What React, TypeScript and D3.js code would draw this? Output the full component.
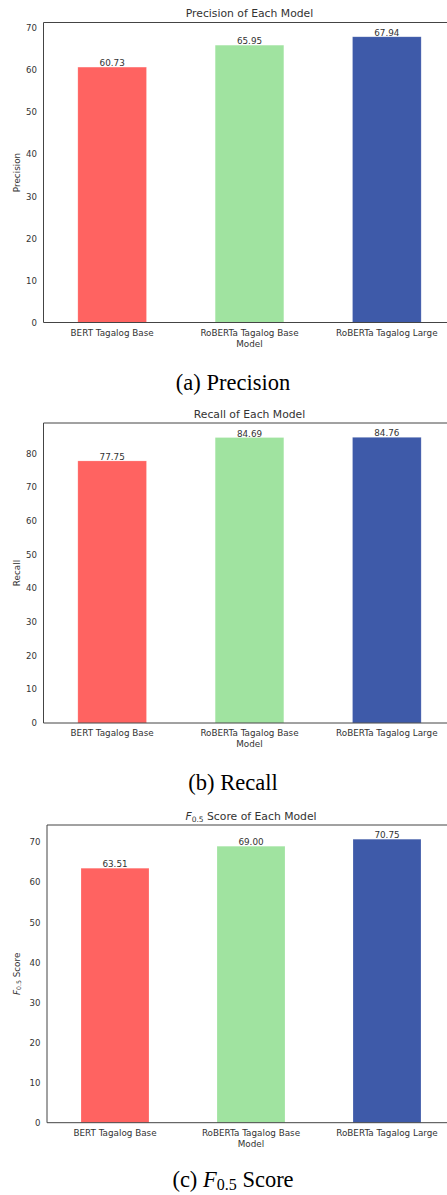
import React from "react";
import * as d3 from "d3";

const models = ["BERT Tagalog Base", "RoBERTa Tagalog Base", "RoBERTa Tagalog Large"];
const precision = [60.73, 65.95, 67.94];
const recall = [77.75, 84.69, 84.76];
const f05 = [63.51, 69.0, 70.75];
const colors = ["#ff6361", "#a0e3a0", "#3e5aa9"];
const precisionTicks = [0, 10, 20, 30, 40, 50, 60, 70];
const recallTicks = [0, 10, 20, 30, 40, 50, 60, 70, 80];
const f05Ticks = [0, 10, 20, 30, 40, 50, 60, 70];

const FONT = "DejaVu Sans, sans-serif";
const TXT = "#333";

type PanelProps = {
  values: number[];
  ticks: number[];
  left: number;
  right: number;
  top: number;
  bottom: number;
  title: React.ReactNode;
  ylabel: React.ReactNode;
  caption: React.ReactNode;
  captionY: number;
};

function Panel(p: PanelProps) {
  const x = d3.scaleLinear().domain([-0.5, models.length - 0.5]).range([p.left, p.right]);
  const ymax = (d3.max(p.values) as number) * 1.05;
  const y = d3.scaleLinear().domain([0, ymax]).range([p.bottom, p.top]);
  return (
    <g>
      <text x={(p.left + p.right) / 2} y={p.top - 5.5} textAnchor="middle" fontFamily={FONT} fontSize={10.8} fill={TXT}>
        {p.title}
      </text>
      {p.values.map((v, i) => (
        <g key={i}>
          <rect
            x={x(i - 0.25)}
            y={y(v)}
            width={x(i + 0.25) - x(i - 0.25)}
            height={y(0) - y(v)}
            fill={colors[i]}
            stroke="#ffffff"
            strokeOpacity={0.35}
            strokeWidth={0.6}
          />
          <text x={x(i)} y={y(v) - 1} textAnchor="middle" fontFamily={FONT} fontSize={8.8} fill={TXT}>
            {v.toFixed(2)}
          </text>
          <text x={x(i)} y={p.bottom + 13} textAnchor="middle" fontFamily={FONT} fontSize={8.8} fill={TXT}>
            {models[i]}
          </text>
        </g>
      ))}
      {p.ticks.map((t) => (
        <text key={t} x={p.left - 6.5} y={y(t) + 3.2} textAnchor="end" fontFamily={FONT} fontSize={8.6} fill={TXT}>
          {t}
        </text>
      ))}
      <text x={(p.left + p.right) / 2} y={p.bottom + 24} textAnchor="middle" fontFamily={FONT} fontSize={8.8} fill={TXT}>
        Model
      </text>
      <text
        transform={`translate(${19.5},${(p.top + p.bottom) / 2}) rotate(-90)`}
        textAnchor="middle"
        fontFamily={FONT}
        fontSize={8.8}
        fill={TXT}
      >
        {p.ylabel}
      </text>
      <path
        d={`M${p.right},${p.top}H${p.left}V${p.bottom}H${p.right}`}
        fill="none"
        stroke="#444"
        strokeWidth={1}
      />
      <text x={233} y={p.captionY} textAnchor="middle" fontFamily="Liberation Serif, serif" fontSize={22.5} fill="#000">
        {p.caption}
      </text>
    </g>
  );
}

export default function App() {
  return (
    <svg
      width={447}
      height={1195}
      style={{ position: "absolute", left: 0, top: 0, background: "#fff" }}
    >
      <rect width={447} height={1195} fill="#fff" />
      <Panel
        values={precision}
        ticks={precisionTicks}
        left={43.5}
        right={455.5}
        top={22.5}
        bottom={322.5}
        title="Precision of Each Model"
        ylabel="Precision"
        caption="(a) Precision"
        captionY={390}
      />
      <Panel
        values={recall}
        ticks={recallTicks}
        left={43.5}
        right={455.5}
        top={423}
        bottom={723}
        title="Recall of Each Model"
        ylabel="Recall"
        caption="(b) Recall"
        captionY={790}
      />
      <Panel
        values={f05}
        ticks={f05Ticks}
        left={47}
        right={455}
        top={825}
        bottom={1122.7}
        title={
          <>
            <tspan fontStyle="italic">F</tspan>
            <tspan fontSize={7.5} dy={2}>0.5</tspan>
            <tspan dy={-2}> Score of Each Model</tspan>
          </>
        }
        ylabel={
          <>
            <tspan fontStyle="italic">F</tspan>
            <tspan fontSize={6.2} dy={1.8}>0.5</tspan>
            <tspan dy={-1.8}> Score</tspan>
          </>
        }
        caption={
          <>
            <tspan>(c) </tspan>
            <tspan fontStyle="italic">F</tspan>
            <tspan fontSize={16} dy={3.2}>0.5</tspan>
            <tspan dy={-3.2}> Score</tspan>
          </>
        }
        captionY={1187}
      />
    </svg>
  );
}
